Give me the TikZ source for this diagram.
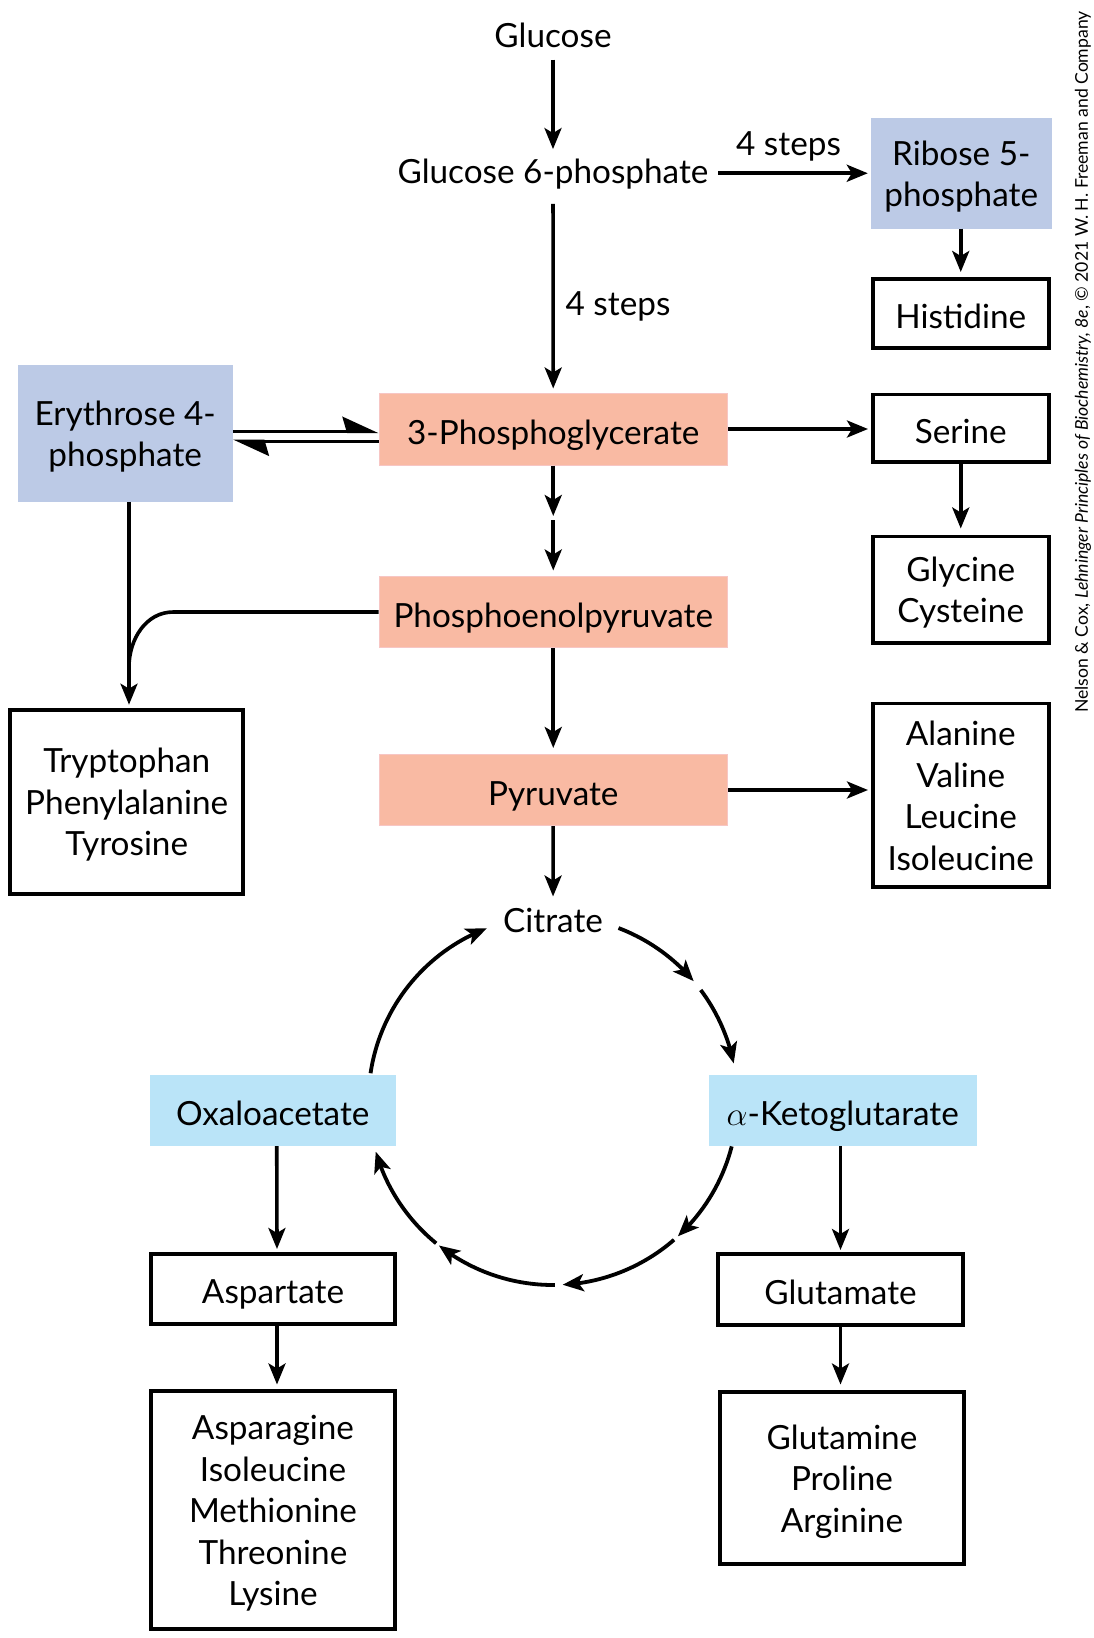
\RequirePackage{fix-cm}
\documentclass[tikz,border=0pt]{standalone}
\usepackage{fontspec}
\setmainfont{Lato}
\usetikzlibrary{arrows.meta,bending,calc}
\definecolor{peri}{HTML}{BCCAE6}
\definecolor{salmon}{HTML}{F9BAA3}
\definecolor{salmonedge}{HTML}{F7C6C4}
\definecolor{sky}{HTML}{BAE4F8}
\newlength\capht \setlength\capht{30pt}
\newlength\mlskip \setlength\mlskip{41.5pt}
\newcommand\mlines[2]{\setbox0=\vtop{\halign{\hfil\rule{0pt}{30pt}##\hfil\cr #2\crcr}}\ifnum#1>0 \ht0=\dimexpr\capht+5pt\relax\else\ht0=\capht\fi \dp0=#1\mlskip \box0}
\newcommand\bigf{\fontsize{33.3pt}{41.5pt}\selectfont}
\tikzset{
  every node/.style={font=\bigf, inner sep=0pt},
  pbox/.style={fill=peri},
  sbox/.style={fill=salmon, draw=salmonedge, line width=1pt},
  kbox/.style={fill=sky},
  bbox/.style={draw=black, line width=3.8pt, fill=white},
  arr/.style={line width=3.6pt, -{Stealth[length=21pt,width=17pt,inset=5pt]}, shorten >=4pt},
  carr/.style={line width=3.8pt, -{Stealth[length=21pt,width=17pt,inset=5pt]}},
  harp/.style={line width=3.6pt, -{Stealth[harpoon,length=32pt,width=29pt,inset=4pt]}},
  plainline/.style={line width=3.6pt},
}
\begin{document}
\begin{tikzpicture}[x=1pt,y=1pt]
\useasboundingbox (0,0) rectangle (1094,-1638);
% text-only nodes
\node (glc) at (553,-32.5) {\mlines{0}{Glucose}};
\node (g6p) at (553,-168) {\mlines{0}{Glucose 6-phosphate}};
\node (l1) at (788.5,-140) {\mlines{0}{4 steps}};
\node (l2) at (618,-300) {\mlines{0}{4 steps}};
\node (cit) at (553,-917.5) {\mlines{0}{Citrate}};
% coloured boxes
\node[pbox, minimum width=180.5, minimum height=110.5] (rib) at (961.25,-173.25) {\mlines{1}{Ribose 5-\cr phosphate}};
\node[pbox, minimum width=215, minimum height=136.7] (ery) at (125.2,-433.3) {\mlines{1}{Erythrose 4-\cr phosphate}};
\node[sbox, minimum width=348.5, minimum height=72] (pg3) at (553.25,-429) {\mlines{0}{3-Phosphoglycerate}};
\node[sbox, minimum width=348.5, minimum height=71] (pep) at (553.25,-612) {\mlines{0}{Phosphoenolpyruvate}};
\node[sbox, minimum width=348.5, minimum height=71] (pyr) at (553.25,-790) {\mlines{0}{Pyruvate}};
\node[kbox, minimum width=246.5, minimum height=71.5] (oaa) at (272.75,-1110.25) {\mlines{0}{Oxaloacetate}};
\node[kbox, minimum width=268.5, minimum height=71.5] (akg) at (842.75,-1110.25) {\mlines{0}{$\alpha$-Ketoglutarate}};
% black boxes
\node[bbox, minimum width=175.7, minimum height=69.2] (his) at (960.75,-313.5) {\mlines{0}{Histidine}};
\node[bbox, minimum width=175.7, minimum height=67.7] (ser) at (960.75,-428.25) {\mlines{0}{Serine}};
\node[bbox, minimum width=175.7, minimum height=106.2] (gly) at (960.75,-589.5) {\mlines{1}{Glycine\cr Cysteine}};
\node[bbox, minimum width=175.7, minimum height=183.7] (ala) at (960.75,-795.25) {\mlines{3}{Alanine\cr Valine\cr Leucine\cr Isoleucine}};
\node[bbox, minimum width=232.8, minimum height=184.5] (trp) at (126.7,-801.85) {\mlines{2}{Tryptophan\cr Phenylalanine\cr Tyrosine}};
\node[bbox, minimum width=243.6, minimum height=69.7] (asp) at (273,-1288.75) {\mlines{0}{Aspartate}};
\node[bbox, minimum width=243.6, minimum height=238.2] (asn) at (273,-1510) {\mlines{4}{Asparagine\cr Isoleucine\cr Methionine\cr Threonine\cr Lysine}};
\node[bbox, minimum width=245.2, minimum height=71.2] (glu) at (840.5,-1289.5) {\mlines{0}{Glutamate}};
\node[bbox, minimum width=244.2, minimum height=172.2] (gln) at (842,-1478) {\mlines{2}{Glutamine\cr Proline\cr Arginine}};
% credit
\node[rotate=90, font=\fontsize{17.6pt}{17.6pt}\selectfont] (credit) at (1083,-362) {Nelson \& Cox, \textit{Lehninger Principles of Biochemistry, 8e}, © 2021 W. H. Freeman and Company};
% helper coordinates
\coordinate (mid) at (553.25,-518);
\coordinate (lx) at (129,0);
\coordinate (bend) at (173.3,-612);
\coordinate (join) at (129,-667);
\coordinate (cyc) at (553,-1100.5);
% connectors
\draw[arr, shorten <=12pt, shorten >=3.7pt] (glc) -- (g6p);
\draw[arr, shorten <=20.6pt] (g6p) -- (pg3);
\draw[arr, shorten >=3pt] ([xshift=165pt]g6p.center |- rib.west) -- (rib.west);
\draw[arr, shorten >=5pt] (rib.south -| his.north) -- (his.north);
\draw[arr, shorten >=3pt] (pg3.east) -- (ser.west |- pg3.east);
\draw[arr, shorten >=6pt] (ser) -- (gly);
\draw[harp] ($(ery.east)+(0,2)$) -- ($(pg3.west |- ery.east)+(0,2)$);
\draw[harp] ($(pg3.west |- ery.east)+(0,-8)$) -- ($(ery.east)+(0,-8)$);
\draw[arr, shorten >=0pt] (pg3) -- ([yshift=2pt]mid);
\draw[arr, shorten >=5.5pt] ([yshift=-2pt]mid) -- (pep);
\draw[arr, shorten >=3pt] (ery.south -| lx) -- (trp.north -| lx);
\draw[plainline] (pep.west) -- (bend) to[out=180,in=90] (join) -- ++(0,-20);
\draw[arr, shorten >=6pt] (pep) -- (pyr);
\draw[arr, shorten >=3pt] (pyr.east) -- (ala.west |- pyr.east);
\draw[arr, shorten >=5.8pt] (pyr) -- (cit);
\draw[arr, shorten >=3pt] ([xshift=4pt]oaa.south) -- ([xshift=4pt]asp.north);
\draw[arr, shorten >=4.5pt] ([xshift=4pt]asp.south) -- ([xshift=4pt]asn.north);
\draw[arr, shorten >=2pt] (akg.south -| glu.north) -- (glu.north);
\draw[arr, shorten >=5.5pt] (glu.south) -- (gln.north -| glu.south);
% cycle
\draw[carr] ($(cyc)+(171.5:184.5)$) arc[start angle=171.5, end angle=111, radius=184.5];
\draw[carr] ($(cyc)+(69.2:184.5)$) arc[start angle=69.2, end angle=40.3, radius=184.5];
\draw[carr] ($(cyc)+(36.8:184.5)$) arc[start angle=36.8, end angle=11.6, radius=184.5];
\draw[carr] ($(cyc)+(-14.4:184.5)$) arc[start angle=-14.4, end angle=-47.4, radius=184.5];
\draw[carr] ($(cyc)+(-49:184.5)$) arc[start angle=-49, end angle=-87, radius=184.5];
\draw[carr] ($(cyc)+(-89.4:184.5)$) arc[start angle=-89.4, end angle=-128.2, radius=184.5];
\draw[carr] ($(cyc)+(-129.3:184.5)$) arc[start angle=-129.3, end angle=-163.9, radius=184.5];
\end{tikzpicture}
\end{document}
